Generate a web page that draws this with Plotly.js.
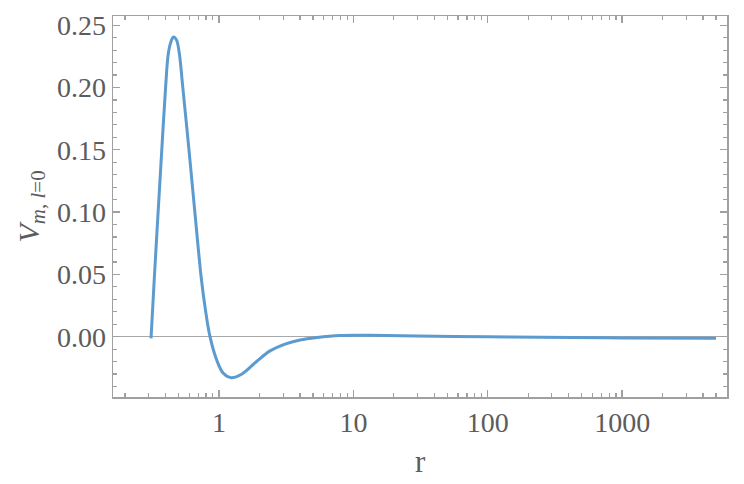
<!DOCTYPE html>
<html>
<head>
<meta charset="utf-8">
<script src="https://cdn.plot.ly/plotly-3.0.1.min.js"></script>
<style>html,body{margin:0;padding:0;background:#fff;}#chart{width:744px;height:484px;}</style>
</head>
<body>
<div id="chart"></div>
<script>
// r values (log axis) and potential V_{m,l=0}
const rValues = [0.312, 0.330, 0.3516, 0.375, 0.4007, 0.4196, 0.439, 0.4586, 0.483, 0.5064, 0.537, 0.598, 0.663, 0.738, 0.793, 0.857, 0.961, 1.077, 1.23, 1.483, 1.885, 2.396, 3.098, 4.006, 5.361, 7.95, 13.3, 30, 100, 244, 1000, 5000];
const vValues = [-0.0013, 0.0469, 0.0985, 0.1498, 0.2007, 0.2275, 0.2368, 0.2405, 0.238, 0.2275, 0.2007, 0.1498, 0.0985, 0.0469, 0.0214, 0.0, -0.0187, -0.0294, -0.0329, -0.0299, -0.0203, -0.0114, -0.0059, -0.0026, -0.0006, 0.0010, 0.0011, 0.0005, 0.0, -0.0005, -0.0010, -0.0013];
const xTickVals = [1, 10, 100, 1000];
const xTickText = ["1", "10", "100", "1000"];

const axisColor = "#a0a0a0";
const labelColor = "#5c5c5c";
const fontFam = "Liberation Serif, Times New Roman, serif";

const trace = {
  x: rValues,
  y: vValues,
  type: "scatter",
  mode: "lines",
  line: {color: "#5b9bd0", width: 3, shape: "spline", smoothing: 1},
  hoverinfo: "skip"
};

const layout = {
  width: 744,
  height: 484,
  margin: {l: 113, r: 17, t: 16, b: 87, pad: 0},
  paper_bgcolor: "#fff",
  plot_bgcolor: "#fff",
  showlegend: false,
  font: {family: fontFam, color: labelColor, size: 28},
  xaxis: {
    type: "log",
    range: [Math.log10(0.1626), Math.log10(6030)],
    tickmode: "array",
    tickvals: xTickVals,
    ticktext: xTickText,
    ticks: "inside",
    ticklen: 7,
    tickwidth: 1.3,
    tickcolor: axisColor,
    showline: true,
    linecolor: axisColor,
    linewidth: 1.5,
    mirror: "ticks",
    showgrid: false,
    zeroline: false,
    tickfont: {family: fontFam, size: 28, color: labelColor},
    minor: {ticks: "inside", ticklen: 4, tickwidth: 1.2, tickcolor: axisColor, dtick: "D1", showgrid: false}
  },
  yaxis: {
    range: [-0.0484, 0.2574],
    tick0: 0,
    dtick: 0.05,
    tickformat: ".2f",
    ticks: "inside",
    ticklen: 7,
    tickwidth: 1.3,
    tickcolor: axisColor,
    showline: true,
    linecolor: axisColor,
    linewidth: 1.5,
    mirror: "ticks",
    showgrid: false,
    zeroline: true,
    zerolinecolor: "#a8a8a8",
    zerolinewidth: 1.3,
    tickfont: {family: fontFam, size: 28, color: labelColor},
    minor: {ticks: "inside", ticklen: 4, tickwidth: 1.2, tickcolor: axisColor, dtick: 0.01, showgrid: false}
  },
  annotations: [
    {
      text: "<i>V</i><sub><i>m</i>, <i>l</i>=0</sub>",
      xref: "paper", yref: "paper",
      x: (30 - 113) / 614, y: 0.5,
      xanchor: "center", yanchor: "middle",
      textangle: -90, showarrow: false,
      font: {family: fontFam, size: 30, color: labelColor}
    },
    {
      text: "r",
      xref: "paper", yref: "paper",
      x: 0.5, y: -(461 - 397) / 381,
      xanchor: "center", yanchor: "middle",
      showarrow: false,
      font: {family: fontFam, size: 31, color: labelColor}
    }
  ]
};

Plotly.newPlot("chart", [trace], layout, {displayModeBar: false, staticPlot: true});
</script>
</body>
</html>
